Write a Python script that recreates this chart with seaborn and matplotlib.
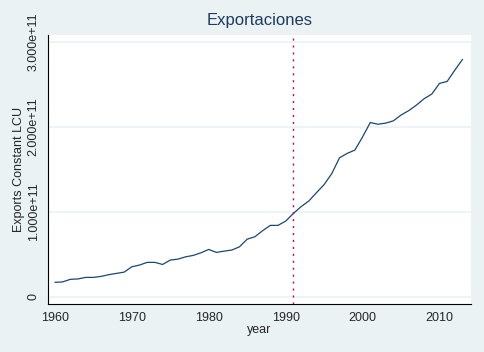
# Exportaciones - estilo Stata con seaborn
import numpy as np
import pandas as pd
import seaborn as sns
import matplotlib.pyplot as plt

years = list(range(1960, 2014))
exports = [0.170, 0.175, 0.205, 0.210, 0.228, 0.228, 0.240, 0.260, 0.275, 0.290,
           0.353, 0.373, 0.405, 0.405, 0.380, 0.432, 0.443, 0.470, 0.487, 0.518,
           0.557, 0.522, 0.537, 0.550, 0.588, 0.678, 0.706, 0.777, 0.840, 0.840,
           0.890, 0.980, 1.060, 1.126, 1.224, 1.320, 1.450, 1.635, 1.687, 1.726,
           1.880, 2.050, 2.030, 2.043, 2.070, 2.138, 2.190, 2.255, 2.330, 2.385,
           2.510, 2.534, 2.667, 2.793]
exports = [v * 1e11 for v in exports]
yticks = [0, 1e11, 2e11, 3e11]
ytick_labels = ['0', '1.000e+11', '2.000e+11', '3.000e+11']
xticks = [1960, 1970, 1980, 1990, 2000, 2010]
break_year = 1991

df = pd.DataFrame({'year': years, 'exports': exports})

bg = '#eaf2f3'
sns.set_style('white')
plt.rcParams['font.family'] = ['Liberation Sans', 'DejaVu Sans']

fig = plt.figure(figsize=(4.84, 3.52), dpi=100, facecolor=bg)
ax = fig.add_axes([48/484, 48/352, 423/484, 269/352])
ax.set_facecolor('white')

for y in yticks:
    ax.axhline(y, color=bg, lw=1.2, zorder=0)

sns.lineplot(data=df, x='year', y='exports', color='#1a476f', lw=0.9, ax=ax)
ax.axvline(break_year, color='#e0004a', lw=1.0, linestyle=(0, (1.5, 3.5)))

ax.set_xlim(1959.1, 2014.1)
ax.set_ylim(-0.085e11, 3.08e11)
ax.set_xticks(xticks)
ax.set_xticklabels([str(x) for x in xticks], fontsize=9)
ax.set_yticks(yticks)
ax.set_yticklabels(ytick_labels, fontsize=9, rotation=90, va='center')

for s in ['top', 'right']:
    ax.spines[s].set_visible(False)
for s in ['left', 'bottom']:
    ax.spines[s].set_color('black')
    ax.spines[s].set_linewidth(0.8)
ax.tick_params(axis='both', direction='out', length=4, width=0.8, color='black', pad=2)

ax.set_xlabel('year', fontsize=9, labelpad=0)
ax.set_ylabel('Exports Constant LCU', fontsize=9, labelpad=2)
ax.set_title('Exportaciones', fontsize=12, color='#1e3a5f', pad=7)

fig.savefig('out.png', dpi=100, facecolor=bg)
